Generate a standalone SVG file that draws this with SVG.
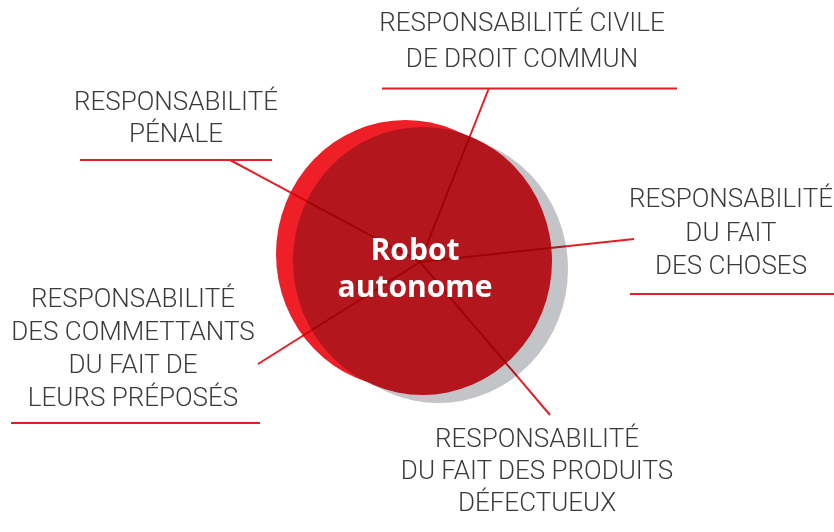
<svg xmlns="http://www.w3.org/2000/svg" width="834" height="532" viewBox="0 0 834 532">
<style>
.lbl{font-family:Roboto,"Liberation Sans",sans-serif;font-weight:300;font-size:26px;fill:#3a3a3a;text-anchor:middle}
.ul{stroke:#e41e26;stroke-width:2.2;fill:none}
.con{stroke:#e41e26;stroke-width:2;fill:none;mix-blend-mode:multiply}
.ctr{font-family:"Open Sans","Liberation Sans",sans-serif;font-weight:700;font-size:30px;fill:#ffffff;text-anchor:middle}
</style>
<rect width="834" height="532" fill="#ffffff"/>
<g id="hub">
<ellipse cx="438.5" cy="269" rx="129.5" ry="134" fill="#c3c4c8"/>
<ellipse cx="405.5" cy="254" rx="129.5" ry="134" fill="#ee1f27"/>
<ellipse cx="422.5" cy="261" rx="129.5" ry="134" fill="#b3161d"/>
</g>
<g id="connectors">
<line class="con" x1="420" y1="262" x2="489" y2="88"/>
<line class="con" x1="420" y1="262" x2="230" y2="160"/>
<line class="con" x1="420" y1="262" x2="634" y2="239"/>
<line class="con" x1="420" y1="262" x2="258" y2="364"/>
<line class="con" x1="420" y1="262" x2="550" y2="415"/>
</g>
<g id="center-label">
<text class="ctr" x="415" y="260">Robot</text>
<text class="ctr" x="415" y="297">autonome</text>
</g>
<g id="civile">
<text class="lbl" x="522" y="31">RESPONSABILITÉ CIVILE</text>
<text class="lbl" x="522" y="67">DE DROIT COMMUN</text>
<line class="ul" x1="382" y1="88.5" x2="677" y2="88.5"/>
</g>
<g id="penale">
<text class="lbl" x="176" y="110">RESPONSABILITÉ</text>
<text class="lbl" x="176" y="142">PÉNALE</text>
<line class="ul" x1="80" y1="160" x2="272" y2="160"/>
</g>
<g id="choses">
<text class="lbl" x="731" y="207">RESPONSABILITÉ</text>
<text class="lbl" x="731" y="241">DU FAIT</text>
<text class="lbl" x="731" y="274">DES CHOSES</text>
<line class="ul" x1="630" y1="294" x2="834" y2="294"/>
</g>
<g id="commettants">
<text class="lbl" x="133" y="307">RESPONSABILITÉ</text>
<text class="lbl" x="133" y="340">DES COMMETTANTS</text>
<text class="lbl" x="133" y="373">DU FAIT DE</text>
<text class="lbl" x="133" y="406">LEURS PRÉPOSÉS</text>
<line class="ul" x1="11" y1="423" x2="260" y2="423"/>
</g>
<g id="produits">
<text class="lbl" x="537" y="447">RESPONSABILITÉ</text>
<text class="lbl" x="537" y="479">DU FAIT DES PRODUITS</text>
<text class="lbl" x="537" y="511">DÉFECTUEUX</text>
</g>
</svg>
